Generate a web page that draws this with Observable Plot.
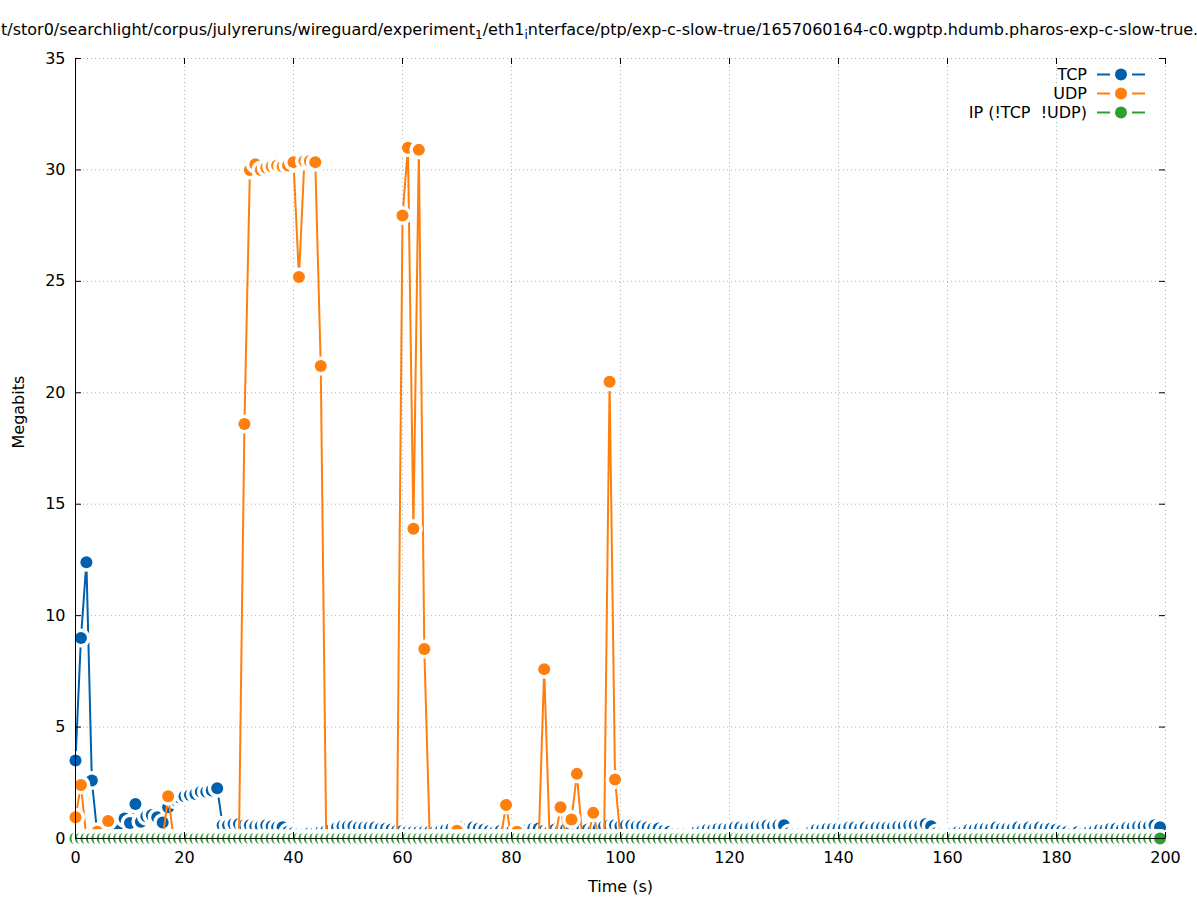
<!DOCTYPE html>
<html>
<head>
<meta charset="utf-8">
<script src="https://cdn.jsdelivr.net/npm/d3@7"></script>
<script src="https://cdn.jsdelivr.net/npm/@observablehq/plot@0.6"></script>
<style>
  body { margin: 0; background: #fff; font-family: "DejaVu Sans", sans-serif; }
  #page { position: relative; width: 1197px; height: 900px; overflow: hidden; background: #fff; }
  #title { position: relative; width: 1197px; height: 45px; overflow: hidden; white-space: nowrap; font-size: 16px; color: #000; }
  #title .t { position: absolute; top: 21px; line-height: 18px; white-space: pre; }
  #title sub { font-size: 12px; vertical-align: -4px; line-height: 0; }
  #legend { position: absolute; top: 65px; right: 52px; display: flex; flex-direction: column; align-items: flex-end; font-size: 16px; color: #000; }
  #legend .row { display: flex; align-items: center; height: 19px; line-height: 19px; white-space: pre; }
  #legend svg { margin-left: 10px; display: block; }
</style>
</head>
<body>
<div id="page">
  <div id="title"></div>
  <div id="chart"></div>
  <div id="legend"></div>
</div>
<script>
// ---------------- data ----------------
const titleParts = ["/mnt/stor0/searchlight/corpus/julyreruns/wireguard/experiment", "1", "/eth1", "i", "nterface/ptp/exp-c-slow-true/1657060164-c0.wgptp.hdumb.pharos-exp-c-slow-true.pcap"];
const xLabel = "Time (s)";
const yLabel = "Megabits";
const seriesNames = ["TCP", "UDP", "IP (!TCP  !UDP)"];
const seriesColors = ["#0060ad", "#ff7f0e", "#2ca02c"];
const xTicks = [0, 20, 40, 60, 80, 100, 120, 140, 160, 180, 200];
const yTicks = [0, 5, 10, 15, 20, 25, 30, 35];

// one sample per second, 0 .. 199 s
const time = d3.range(0, 200);

const tcp = [
  3.5, 9.0, 12.4, 2.6, 0.2, 0.2, 0.3, 0.4, 0.5, 0.9, 0.7, 1.55, 0.75, 1.0, 1.05, 0.95, 0.72, 1.4, 1.75, 1.85,
  1.9, 1.95, 2.0, 2.1, 2.1, 2.15, 2.25, 0.6, 0.6, 0.65, 0.65, 0.6, 0.6, 0.55, 0.55, 0.6, 0.55, 0.5, 0.5, 0.3,
  0.25, 0.2, 0.2, 0.25, 0.25, 0.3, 0.35, 0.4, 0.5, 0.55, 0.55, 0.55, 0.5, 0.5, 0.5, 0.5, 0.45, 0.45, 0.4, 0.35,
  0.35, 0.3, 0.3, 0.3, 0.3, 0.3, 0.3, 0.35, 0.4, 0.45, 0.5, 0.5, 0.45, 0.5, 0.45, 0.4, 0.35, 0.3, 0.35, 0.3,
  0.3, 0.3, 0.35, 0.4, 0.45, 0.45, 0.35, 0.3, 0.4, 0.35, 0.4, 0.4, 0.35, 0.4, 0.4, 0.35, 0.45, 0.55, 0.6, 0.6,
  0.55, 0.6, 0.6, 0.55, 0.55, 0.5, 0.45, 0.45, 0.35, 0.3, 0.2, 0.2, 0.2, 0.2, 0.3, 0.35, 0.4, 0.4, 0.45, 0.45,
  0.45, 0.5, 0.5, 0.45, 0.5, 0.55, 0.55, 0.6, 0.55, 0.6, 0.6, 0.25, 0.2, 0.2, 0.2, 0.3, 0.4, 0.4, 0.45, 0.45,
  0.45, 0.45, 0.5, 0.5, 0.45, 0.5, 0.45, 0.5, 0.5, 0.5, 0.5, 0.55, 0.55, 0.6, 0.6, 0.6, 0.65, 0.55, 0.25, 0.2,
  0.2, 0.25, 0.3, 0.3, 0.4, 0.4, 0.45, 0.45, 0.45, 0.5, 0.45, 0.45, 0.45, 0.5, 0.45, 0.5, 0.45, 0.5, 0.45, 0.45,
  0.4, 0.35, 0.3, 0.25, 0.3, 0.25, 0.3, 0.35, 0.4, 0.4, 0.45, 0.45, 0.4, 0.5, 0.5, 0.55, 0.55, 0.55, 0.6, 0.5
];

const udp = [
  0.95, 2.4, 0, 0, 0.3, 0, 0.78, 0, 0, 0, 0, 0, 0, 0, 0, 0, 0, 1.9, 0, 0,
  0, 0, 0, 0, 0, 0, 0, 0, 0, 0, 0, 18.6, 30.0, 30.25, 30.0, 30.1, 30.15, 30.2, 30.15, 30.2,
  30.35, 25.2, 30.4, 30.4, 30.35, 21.2, 0, 0, 0, 0, 0, 0, 0, 0, 0, 0, 0, 0, 0, 0,
  27.95, 31.0, 13.9, 30.9, 8.5, 0, 0, 0, 0, 0, 0.35, 0, 0, 0, 0, 0, 0, 0, 0, 1.5,
  0, 0.3, 0, 0, 0, 0, 7.6, 0, 0, 1.4, 0, 0.85, 2.9, 0, 0, 1.15, 0, 0, 20.5, 2.65,
  0, 0, 0, 0, 0, 0, 0, 0, 0, 0, 0, 0, 0, 0, 0, 0, 0, 0, 0, 0,
  0, 0, 0, 0, 0, 0, 0, 0, 0, 0, 0, 0, 0, 0, 0, 0, 0, 0, 0, 0,
  0, 0, 0, 0, 0, 0, 0, 0, 0, 0, 0, 0, 0, 0, 0, 0, 0, 0, 0, 0,
  0, 0, 0, 0, 0, 0, 0, 0, 0, 0, 0, 0, 0, 0, 0, 0, 0, 0, 0, 0,
  0, 0, 0, 0, 0, 0, 0, 0, 0, 0, 0, 0, 0, 0, 0, 0, 0, 0, 0, 0
];

const ip = [
  0, 0, 0, 0, 0, 0, 0, 0, 0, 0, 0, 0, 0, 0, 0, 0, 0, 0, 0, 0,
  0, 0, 0, 0, 0, 0, 0, 0, 0, 0, 0, 0, 0, 0, 0, 0, 0, 0, 0, 0,
  0, 0, 0, 0, 0, 0, 0, 0, 0, 0, 0, 0, 0, 0, 0, 0, 0, 0, 0, 0,
  0, 0, 0, 0, 0, 0, 0, 0, 0, 0, 0, 0, 0, 0, 0, 0, 0, 0, 0, 0,
  0, 0, 0, 0, 0, 0, 0, 0, 0, 0, 0, 0, 0, 0, 0, 0, 0, 0, 0, 0,
  0, 0, 0, 0, 0, 0, 0, 0, 0, 0, 0, 0, 0, 0, 0, 0, 0, 0, 0, 0,
  0, 0, 0, 0, 0, 0, 0, 0, 0, 0, 0, 0, 0, 0, 0, 0, 0, 0, 0, 0,
  0, 0, 0, 0, 0, 0, 0, 0, 0, 0, 0, 0, 0, 0, 0, 0, 0, 0, 0, 0,
  0, 0, 0, 0, 0, 0, 0, 0, 0, 0, 0, 0, 0, 0, 0, 0, 0, 0, 0, 0,
  0, 0, 0, 0, 0, 0, 0, 0, 0, 0, 0, 0, 0, 0, 0, 0, 0, 0, 0, 0
];

// ---------------- title ----------------
(function () {
  const title = document.getElementById("title");
  const span = document.createElement("span");
  span.className = "t";
  span.innerHTML = titleParts[0] + "<sub>" + titleParts[1] + "</sub>" + titleParts[2] + "<sub>" + titleParts[3] + "</sub>" + titleParts[4];
  title.appendChild(span);
  // shift so the visible text starts at "t/stor0" like the clipped reference title
  const probe = document.createElement("span");
  probe.style.cssText = "position:absolute;visibility:hidden;white-space:pre;font-size:16px;";
  probe.textContent = "/mn";
  title.appendChild(probe);
  span.style.left = (-probe.getBoundingClientRect().width + 1) + "px";
  probe.remove();
})();

// ---------------- chart ----------------
const W = 1197, H = 855, mt = 13, mb = 62, ml = 75, mr = 32;
const ph = H - mt - mb, pw = W - ml - mr;

const seriesVals = [tcp, udp, ip];
const rowsFor = (vals) => time.map((t, i) => ({t, v: vals[i]}));

const seriesMarks = [];
seriesVals.forEach((vals, k) => {
  const rows = rowsFor(vals);
  seriesMarks.push(Plot.line(rows, {x: "t", y: "v", stroke: seriesColors[k], strokeWidth: 2}));
  seriesMarks.push(Plot.dot(rows, {x: "t", y: "v", r: 6, fill: seriesColors[k], stroke: "white", strokeWidth: 7, paintOrder: "stroke"}));
});

const chart = Plot.plot({
  width: W,
  height: H,
  marginTop: mt,
  marginBottom: mb,
  marginLeft: ml,
  marginRight: mr,
  style: {fontFamily: "DejaVu Sans, sans-serif", fontSize: "16px", color: "#000", background: "#fff", overflow: "visible"},
  x: {domain: [0, 200]},
  y: {domain: [0, 35]},
  marks: [
    Plot.gridX(xTicks, {stroke: "#b4b4b4", strokeOpacity: 1, strokeWidth: 1, strokeDasharray: "1,3"}),
    Plot.gridY(yTicks, {stroke: "#b4b4b4", strokeOpacity: 1, strokeWidth: 1, strokeDasharray: "1,3"}),
    ...seriesMarks,
    Plot.ruleX([0], {stroke: "#000", strokeWidth: 1}),
    Plot.ruleY([0], {stroke: "#000", strokeWidth: 1}),
    // inward ticks on all four sides
    Plot.tickX(xTicks, {x: d => d, insetTop: ph - 6, stroke: "#000"}),
    Plot.tickX(xTicks, {x: d => d, insetBottom: ph - 6, stroke: "#000"}),
    Plot.tickY(yTicks, {y: d => d, insetRight: pw - 6, stroke: "#000"}),
    Plot.tickY(yTicks, {y: d => d, insetLeft: pw - 6, stroke: "#000"}),
    Plot.axisX({ticks: xTicks, tickSize: 0, tickPadding: 13, fontSize: 16, label: null}),
    Plot.axisY({ticks: yTicks, tickSize: 0, tickPadding: 10, fontSize: 16, label: null}),
    Plot.text([xLabel], {text: d => d, frameAnchor: "bottom", dy: 53, fontSize: 16, fill: "#000"}),
    Plot.text([yLabel], {text: d => d, frameAnchor: "left", rotate: -90, dx: -57, fontSize: 16, fill: "#000"})
  ]
});
document.getElementById("chart").appendChild(chart);

// ---------------- legend ----------------
(function () {
  const legend = document.getElementById("legend");
  seriesNames.forEach((name, k) => {
    const row = document.createElement("div");
    row.className = "row";
    const label = document.createElement("span");
    label.textContent = name;
    row.appendChild(label);
    const c = seriesColors[k];
    row.insertAdjacentHTML("beforeend",
      `<svg width="48" height="19" viewBox="0 0 48 19">
         <line x1="0" y1="9.5" x2="13" y2="9.5" stroke="${c}" stroke-width="2"/>
         <line x1="35" y1="9.5" x2="48" y2="9.5" stroke="${c}" stroke-width="2"/>
         <circle cx="24" cy="9.5" r="6" fill="${c}"/>
       </svg>`);
    legend.appendChild(row);
  });
})();
</script>
</body>
</html>
